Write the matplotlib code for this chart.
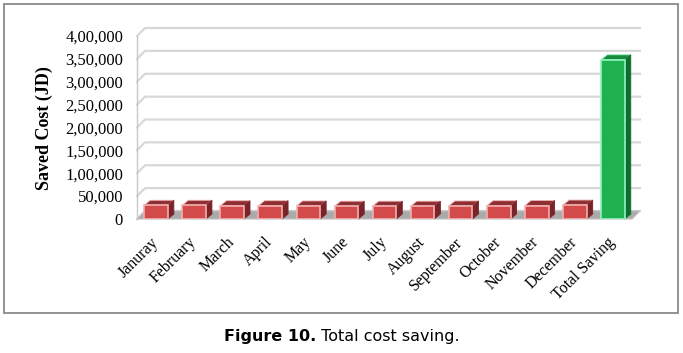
import matplotlib
matplotlib.use("Agg")
import matplotlib.pyplot as plt
from matplotlib.patches import Polygon, Rectangle

# data
months = ["Januray", "February", "March", "April", "May", "June", "July",
          "August", "September", "October", "November", "December"]
monthly_saving = [30000, 30000, 29000, 29000, 28500, 28000, 28000,
                  28000, 28500, 29000, 29500, 30500]
total_label = "Total Saving"
total_saving = sum(monthly_saving)
y_ticks = [0, 50000, 100000, 150000, 200000, 250000, 300000, 350000, 400000]

categories = months + [total_label]
values = monthly_saving + [total_saving]


def indian_format(v):
    # 350000 -> 3,50,000
    s = str(int(v))
    if len(s) <= 3:
        return s
    head, tail = s[:-3], s[-3:]
    groups = []
    while len(head) > 2:
        groups.insert(0, head[-2:])
        head = head[:-2]
    if head:
        groups.insert(0, head)
    return ",".join(groups) + "," + tail


W, H = 683, 353
fig = plt.figure(figsize=(W / 100, H / 100), dpi=100)

# axes box in pixels (front plane)
ax_l, ax_r, ax_t, ax_b = 137, 632, 36, 219
ax = fig.add_axes([ax_l / W, 1 - ax_b / H, (ax_r - ax_l) / W, (ax_b - ax_t) / H])
xmin, xmax = -0.5, len(categories) - 0.5
ymin, ymax = 0, 400000
ax.set_xlim(xmin, xmax)
ax.set_ylim(ymin, ymax)

# pixel -> data conversions for the fake 3D depth
px_x = (xmax - xmin) / (ax_r - ax_l)
px_y = (ymax - ymin) / (ax_b - ax_t)
wall_dx, wall_dy = 8 * px_x, 8 * px_y
bar_dx, bar_dy = 6 * px_x, 5 * px_y

# back wall gridlines + left side wall diagonals
for v in y_ticks:
    ax.plot([xmin, xmin + wall_dx, xmax + wall_dx], [v, v + wall_dy, v + wall_dy],
            color="#d8d8d8", lw=1.6, zorder=1, clip_on=False)
ax.plot([xmin, xmin], [0, ymax], color="#c8c8c8", lw=1.0, zorder=1, clip_on=False)

# floor
floor = Polygon([(xmin, 0), (xmax, 0), (xmax + wall_dx, wall_dy), (xmin + wall_dx, wall_dy)],
                closed=True, facecolor="#aaaaaa", edgecolor="#c0c0c0", lw=0.8, zorder=2,
                clip_on=False)
ax.add_patch(floor)

width = 0.62
x = list(range(len(categories)))
front_cols = ["#d24a4a"] * len(months) + ["#1fb04f"]
edge_cols = ["#f2b0b0"] * len(months) + ["#8ef5bd"]
top_cols = ["#8e2f33"] * len(months) + ["#178a3c"]
side_cols = ["#7a2329"] * len(months) + ["#0e6e2e"]

bars = ax.bar(x, values, width=width, color=front_cols, edgecolor=edge_cols,
              lw=1.2, zorder=4)
for i, v in enumerate(values):
    x0, x1 = x[i] - width / 2, x[i] + width / 2
    top = Polygon([(x0, v), (x1, v), (x1 + bar_dx, v + bar_dy), (x0 + bar_dx, v + bar_dy)],
                  closed=True, facecolor=top_cols[i], edgecolor=edge_cols[i], lw=0.6,
                  zorder=3, clip_on=False)
    side = Polygon([(x1, 0), (x1 + bar_dx, bar_dy), (x1 + bar_dx, v + bar_dy), (x1, v)],
                   closed=True, facecolor=side_cols[i], edgecolor=side_cols[i], lw=0.6,
                   zorder=3, clip_on=False)
    ax.add_patch(top)
    ax.add_patch(side)

for s in ax.spines.values():
    s.set_visible(False)

serif = "Liberation Serif"
ax.set_yticks(y_ticks)
ax.set_yticklabels([indian_format(v) for v in y_ticks], fontfamily=serif, fontsize=12)
ax.set_xticks(x)
ax.set_xticklabels(categories, fontfamily=serif, fontsize=11.5, rotation=45,
                   ha="right", va="center", rotation_mode="anchor")
ax.tick_params(axis="y", length=0, pad=10)
ax.tick_params(axis="x", length=0, pad=15)

fig.text(44 / W, 1 - 128 / H, "Saved Cost (JD)", rotation=90, ha="center", va="center",
         fontfamily=serif, fontsize=13, fontweight="bold")

# frame around the chart
fig.patches.append(Rectangle((4 / W, 1 - 313 / H), 674 / W, 309 / H,
                             transform=fig.transFigure, fill=False,
                             edgecolor="#808080", lw=1.2))

# caption: bold "Figure 10." followed by plain text, centred as a whole
fig.canvas.draw()
r = fig.canvas.get_renderer()
t1 = fig.text(0, 0, "Figure 10.", fontsize=11.5, fontweight="bold", fontfamily="DejaVu Sans")
t2 = fig.text(0, 0, " Total cost saving.", fontsize=11.5, fontfamily="DejaVu Sans")
w1 = t1.get_window_extent(r).width
w2 = t2.get_window_extent(r).width
start = (W - w1 - w2) / 2
cy = 1 - 336 / H
t1.set_position((start / W, cy))
t1.set_va("center")
t2.set_position(((start + w1) / W, cy))
t2.set_va("center")

fig.savefig("out.png", dpi=100)
